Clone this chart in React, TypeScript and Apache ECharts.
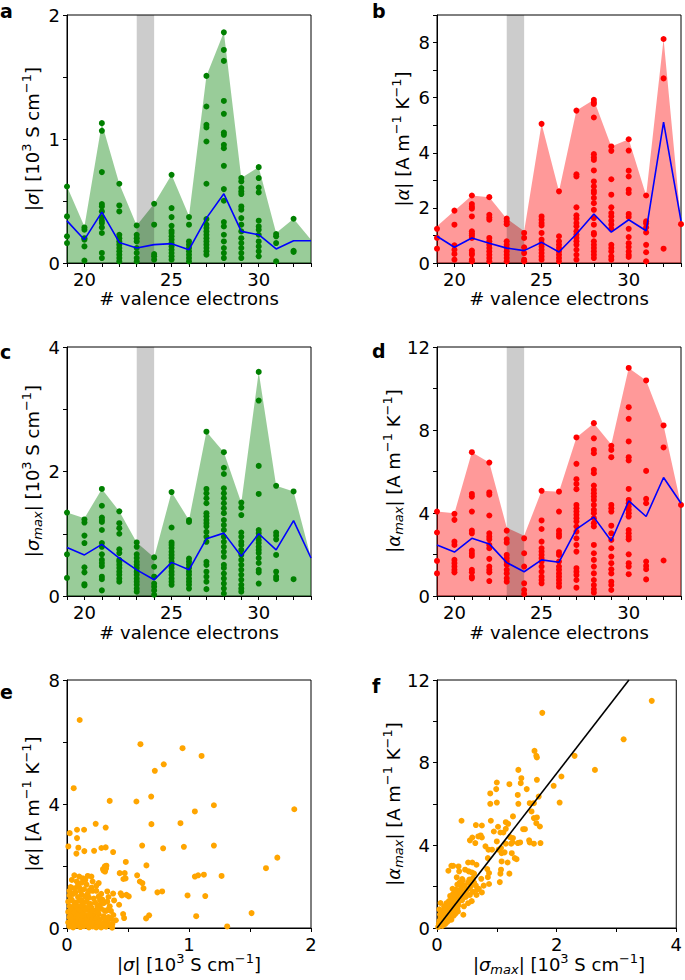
import React, { useEffect, useRef } from "react";
import * as echarts from "echarts";

const FONT = "DejaVu Sans";

// valence electron counts (x positions for panels a-d)
const valence = [19, 20, 21, 22, 23, 24, 25, 26, 27, 28, 29, 30, 31, 32, 33];
const bandRange = [23, 24];

// ---- panel a: |sigma| ----
const aDots = [
  [0.617, 0.376, 0.215, 0.161],
  [0.287, 0.268, 0.2, 0.188, 0.134, 0.019],
  [1.128, 1.066, 0.733, 0.475, 0.456, 0.416, 0.368, 0.341, 0.322, 0.287, 0.242, 0.081, 0.04],
  [0.639, 0.464, 0.416, 0.228, 0.2, 0.174, 0.148, 0.121, 0.094, 0.067, 0.04, 0.013],
  [0.303, 0.228, 0.2, 0.174, 0.121, 0.081, 0.04, 0.013],
  [0.478, 0.309, 0.072, 0.054, 0.027],
  [0.711, 0.443, 0.37, 0.3, 0.26, 0.242, 0.215, 0.188, 0.161, 0.134, 0.107, 0.08, 0.054, 0.027],
  [0.37, 0.309, 0.174, 0.148, 0.121, 0.094, 0.067, 0.04, 0.013],
  [1.509, 1.262, 1.114, 1.093, 0.98, 0.639, 0.354, 0.309, 0.282, 0.255, 0.228, 0.2, 0.174, 0.148, 0.121, 0.094, 0.067],
  [1.86, 1.718, 1.63, 1.307, 1.203, 1.052, 1.034, 0.953, 0.926, 0.784, 0.596, 0.502, 0.33, 0.295, 0.228, 0.174, 0.121, 0.08, 0.04],
  [0.685, 0.658, 0.604, 0.577, 0.556, 0.456, 0.43, 0.362, 0.309, 0.255, 0.2, 0.161, 0.121, 0.08, 0.04],
  [0.773, 0.685, 0.609, 0.569, 0.341, 0.295, 0.268, 0.228, 0.174, 0.134, 0.094, 0.054],
  [0.234, 0.215, 0.161, 0.013],
  [0.357, 0.099, 0.089],
  [],
];
const aMax = [0.617, 0.295, 1.128, 0.639, 0.303, 0.478, 0.711, 0.38, 1.509, 1.86, 0.685, 0.773, 0.242, 0.357, 0.188];
const aMean = [0.34, 0.188, 0.41, 0.166, 0.121, 0.148, 0.156, 0.107, 0.362, 0.558, 0.255, 0.228, 0.113, 0.18, 0.18];

// ---- panel b: |alpha| ----
const bDots = [
  [1.24, 0.91, 0.52],
  [1.9, 1.39, 0.64, 0.48, 0.33, 0.12],
  [2.45, 2.14, 2.04, 1.97, 1.69, 1.15, 1.07, 1.0, 0.91, 0.45, 0.36, 0.3, 0.12, 0.06],
  [2.39, 1.75, 1.65, 1.57, 0.91, 0.79, 0.66, 0.54, 0.42, 0.3, 0.18, 0.06],
  [1.61, 1.51, 1.41, 0.79, 0.66, 0.54, 0.42, 0.3, 0.18, 0.06],
  [1.09, 0.91, 0.57, 0.36, 0.12, 0.06],
  [5.05, 1.69, 1.57, 1.45, 1.36, 1.09, 0.85, 0.72, 0.6, 0.48, 0.36, 0.24, 0.12],
  [2.6, 0.97, 0.79, 0.66, 0.54, 0.42, 0.3, 0.18, 0.06],
  [5.53, 3.22, 3.14, 2.02, 1.73, 1.61, 1.45, 1.33, 1.15, 1.03, 0.91, 0.79, 0.66, 0.48, 0.3, 0.12],
  [5.92, 5.83, 5.77, 5.28, 3.95, 3.83, 3.74, 3.36, 2.96, 2.78, 2.62, 2.54, 2.36, 2.17, 1.93, 1.63, 1.39, 1.09, 1.03, 0.79, 0.66, 0.54, 0.42, 0.3, 0.18],
  [4.23, 4.07, 3.04, 2.48, 2.02, 1.81, 1.69, 1.53, 1.39, 1.24, 0.66, 0.54, 0.42, 0.24, 0.12],
  [4.49, 4.08, 3.35, 3.14, 2.66, 2.54, 1.78, 1.67, 1.24, 0.94, 0.72, 0.58, 0.42, 0.3, 0.22],
  [2.45, 1.51, 1.43, 1.29, 1.11, 0.66, 0.39, 0.06],
  [8.13, 6.7, 0.52],
  [1.41],
];
const bMax = [1.33, 1.9, 2.45, 2.39, 1.61, 1.15, 5.05, 2.6, 5.53, 5.92, 4.23, 4.49, 2.45, 8.13, 1.45];
const bMean = [0.97, 0.57, 0.91, 0.72, 0.54, 0.45, 0.75, 0.4, 1.05, 1.78, 1.12, 1.57, 1.17, 5.11, 1.53];

// ---- panel c: |sigma_max| ----
const cDots = [
  [1.34, 0.67, 0.29],
  [1.23, 1.18, 0.97, 0.85, 0.46, 0.38, 0.19, 0.17],
  [1.72, 1.45, 1.26, 1.22, 1.19, 1.06, 0.85, 0.79, 0.67, 0.58, 0.53, 0.48, 0.31, 0.27, 0.09],
  [1.36, 1.17, 1.09, 1.0, 0.75, 0.69, 0.58, 0.55, 0.5, 0.45, 0.39, 0.34, 0.28, 0.23],
  [0.86, 0.79, 0.67, 0.61, 0.55, 0.5, 0.45, 0.39, 0.34, 0.28, 0.23, 0.18, 0.12, 0.07],
  [0.62, 0.47, 0.31, 0.2, 0.15, 0.09, 0.02],
  [1.67, 1.1, 0.86, 0.82, 0.77, 0.71, 0.66, 0.61, 0.55, 0.5, 0.45, 0.39, 0.34, 0.28, 0.23, 0.18],
  [1.22, 1.19, 0.6, 0.55, 0.5, 0.45, 0.39, 0.34, 0.28, 0.23, 0.18, 0.12],
  [2.64, 1.72, 1.65, 1.57, 1.49, 1.33, 1.28, 1.22, 1.17, 1.12, 1.03, 0.95, 0.87, 0.55, 0.5, 0.39, 0.31, 0.23, 0.11],
  [2.31, 2.06, 1.96, 1.73, 1.65, 1.57, 1.49, 1.41, 1.33, 1.22, 1.14, 1.06, 0.95, 0.87, 0.79, 0.71, 0.63, 0.5, 0.45, 0.36, 0.28, 0.2, 0.12, 0.04],
  [1.5, 1.42, 1.3, 1.02, 0.95, 0.87, 0.82, 0.74, 0.66, 0.58, 0.5, 0.42, 0.34, 0.26, 0.18, 0.12, 0.07],
  [3.6, 3.14, 2.09, 1.64, 1.06, 1.01, 0.95, 0.9, 0.85, 0.79, 0.74, 0.69, 0.61, 0.53, 0.42, 0.38, 0.2],
  [1.77, 1.02, 0.97, 0.91, 0.66, 0.39, 0.31, 0.27],
  [1.68, 0.27],
  [],
];
const cMax = [1.34, 1.25, 1.72, 1.36, 0.86, 0.62, 1.67, 1.22, 2.64, 2.31, 1.5, 3.6, 1.77, 1.68, 0.61];
const cMean = [0.78, 0.66, 0.83, 0.61, 0.42, 0.26, 0.54, 0.42, 0.92, 1.01, 0.64, 1.0, 0.74, 1.21, 0.61];

// ---- panel d: |alpha_max| ----
const dDots = [
  [4.07, 3.06, 1.69, 1.09],
  [3.96, 3.67, 2.62, 2.46, 1.74, 1.58, 1.42, 1.26, 1.14],
  [6.93, 4.92, 4.79, 4.07, 3.15, 3.02, 2.19, 2.06, 1.93, 1.26, 1.14, 0.93, 0.85],
  [6.43, 4.99, 4.88, 3.88, 3.02, 2.86, 2.73, 2.46, 2.3, 1.79, 1.42, 1.26, 1.14, 0.72],
  [3.15, 2.73, 2.57, 1.98, 1.82, 1.66, 1.5, 1.26, 1.09, 0.85, 0.69],
  [2.78, 2.06, 1.42, 0.61, 0.29, 0.1],
  [5.07, 3.64, 3.23, 2.62, 2.3, 2.14, 1.98, 1.82, 1.66, 1.42, 1.17, 0.93, 0.77, 0.61],
  [5.03, 4.07, 3.15, 2.99, 2.86, 2.11, 1.98, 1.66, 1.42, 1.26, 1.09, 0.93, 0.77, 0.61, 0.45],
  [7.64, 6.37, 5.63, 5.4, 5.15, 4.39, 4.23, 4.07, 3.91, 3.75, 3.59, 3.35, 3.1, 2.78, 2.46, 2.14, 1.34, 1.17, 1.01, 0.77, 0.4],
  [8.33, 7.6, 7.04, 6.88, 6.08, 5.92, 5.32, 5.11, 4.95, 4.79, 4.63, 4.39, 4.15, 3.99, 3.75, 3.51, 3.35, 2.46, 2.06, 1.74, 1.42, 1.09, 0.77, 0.53, 0.32, 0.16],
  [7.24, 7.04, 6.69, 4.39, 4.23, 4.07, 3.39, 3.02, 2.7, 2.3, 1.9, 1.58, 1.29, 1.09, 0.69, 0.53, 0.29],
  [10.99, 9.1, 8.54, 7.45, 6.69, 6.53, 5.16, 4.63, 4.47, 4.31, 4.15, 3.99, 3.83, 3.18, 3.02, 2.86, 2.73, 2.01, 1.58, 1.42, 1.05],
  [10.39, 6.03, 4.68, 4.47, 1.66, 1.45, 1.29, 0.8],
  [8.22, 7.16, 1.71],
  [4.39],
];
const dMax = [4.07, 3.99, 6.93, 6.43, 3.3, 2.9, 5.07, 5.03, 7.64, 8.33, 7.3, 10.99, 10.39, 8.22, 4.39];
const dMean = [2.46, 2.12, 2.78, 2.51, 1.61, 1.17, 1.74, 1.63, 3.22, 3.8, 2.65, 4.58, 3.83, 5.71, 4.47];

// ---- panel e: |alpha| vs |sigma| ----
const ePoints = [
  [0.104, 6.71], [0.602, 5.93], [0.947, 5.8], [1.103, 5.55], [0.793, 5.28], [0.72, 5.07], [0.055, 4.51],
  [0.35, 4.1], [0.569, 4.08], [0.69, 4.24], [1.204, 3.96], [1.048, 3.76], [1.863, 3.83], [0.93, 3.38],
  [0.692, 3.35], [0.235, 3.36], [0.317, 3.24], [0.022, 3.06], [0.082, 3.17], [0.14, 3.17], [0.082, 2.9],
  [0.011, 2.63], [0.093, 2.59], [0.077, 2.4], [0.142, 2.48], [0.222, 2.49], [0.282, 2.58], [0.317, 2.6],
  [0.378, 2.45], [0.616, 2.66], [0.788, 2.57], [0.958, 2.62], [1.204, 2.66], [0.482, 2.13], [0.323, 2.01],
  [0.295, 1.9], [0.312, 1.82], [0.651, 2.02], [0.432, 1.77], [0.473, 1.77], [0.462, 1.58], [0.575, 1.7],
  [0.597, 1.5], [0.618, 1.45], [0.627, 1.28], [1.048, 1.66], [1.075, 1.7], [1.122, 1.72], [1.267, 1.68],
  [1.631, 1.93], [1.724, 2.27], [0.741, 1.15], [0.78, 1.18], [0.988, 1.05], [1.133, 1.03], [0.378, 1.11],
  [0.386, 0.89], [0.427, 0.75], [0.487, 1.07], [0.506, 1.02], [0.337, 0.59], [0.309, 0.56], [0.46, 0.45],
  [0.468, 0.32], [0.361, 0.29], [0.372, 0.13], [0.648, 0.31], [0.673, 0.41], [1.059, 0.38], [1.513, 0.48],
  [1.313, 0.05],
  [0.31, 1.99], [0.3, 1.85], [0.32, 1.92], [0.48, 1.6], [0.06, 1.7], [0.1, 1.66], [0.13, 1.6], [0.17, 1.68],
  [0.08, 1.5], [0.12, 1.46], [0.15, 1.55], [0.03, 1.32], [0.06, 1.28], [0.1, 1.3], [0.2, 1.66], [0.21, 1.5],
  [0.2, 1.3], [0.24, 1.36], [0.21, 1.2], [0.26, 1.45], [0.33, 1.18], [0.34, 1.0], [0.44, 1.12], [0.45, 1.05],
  [0.02, 1.05], [0.05, 1.1], [0.09, 1.0], [0.12, 1.08], [0.15, 1.02], [0.18, 0.98], [0.22, 0.95], [0.26, 1.02],
  [0.29, 0.92], [0.01, 0.85], [0.04, 0.9], [0.07, 0.82], [0.1, 0.88], [0.13, 0.8], [0.16, 0.85], [0.19, 0.78],
  [0.23, 0.82], [0.27, 0.75], [0.3, 0.8], [0.35, 0.7], [0.02, 0.7], [0.05, 0.65], [0.08, 0.72], [0.11, 0.62],
  [0.14, 0.68], [0.17, 0.6], [0.2, 0.66], [0.24, 0.58], [0.28, 0.62], [0.32, 0.55], [0.01, 0.52], [0.04, 0.48],
  [0.07, 0.55], [0.1, 0.45], [0.13, 0.5], [0.16, 0.42], [0.19, 0.5], [0.22, 0.4], [0.26, 0.45], [0.3, 0.38],
  [0.38, 0.42], [0.02, 0.35], [0.05, 0.3], [0.08, 0.38], [0.11, 0.28], [0.14, 0.33], [0.17, 0.25], [0.2, 0.32],
  [0.23, 0.22], [0.27, 0.28], [0.33, 0.2], [0.4, 0.25], [0.01, 0.18], [0.04, 0.14], [0.07, 0.2], [0.1, 0.12],
  [0.13, 0.17], [0.16, 0.1], [0.19, 0.15], [0.22, 0.08], [0.25, 0.13], [0.29, 0.06], [0.35, 0.1], [0.02, 0.05],
  [0.05, 0.02], [0.08, 0.07], [0.11, 0.03], [0.14, 0.06], [0.18, 0.02], [0.21, 0.05], [0.24, 0.02], [0.28, 0.02],
  [0.32, 0.04], [0.37, 0.01], [0.03, 0.95], [0.06, 0.42], [0.09, 0.25], [0.12, 0.9], [0.15, 0.36], [0.18, 1.2],
  [0.25, 0.7],
  [0.03, 0.6], [0.06, 0.75], [0.09, 0.58], [0.12, 0.72], [0.15, 0.6], [0.18, 0.7], [0.21, 0.55], [0.25, 0.5],
  [0.03, 0.4], [0.06, 0.5], [0.09, 0.42], [0.12, 0.4], [0.15, 0.25], [0.18, 0.4], [0.21, 0.28], [0.24, 0.3],
  [0.03, 0.25], [0.06, 0.1], [0.09, 0.15], [0.12, 0.22], [0.15, 0.15], [0.18, 0.08], [0.2, 0.18], [0.26, 0.2],
  [0.3, 0.15], [0.31, 0.28], [0.34, 0.35], [0.02, 1.2], [0.07, 1.15], [0.11, 1.2], [0.14, 1.25], [0.17, 1.1],
  [0.24, 1.2], [0.28, 1.1], [0.16, 1.4], [0.09, 1.38], [0.04, 1.55], [0.27, 0.9], [0.33, 0.85], [0.36, 0.55],
];

// ---- panel f: |alpha_max| vs |sigma_max| ----
const fPoints = [
  [3.59, 10.99], [1.76, 10.41], [3.12, 9.13], [1.63, 8.57], [1.66, 8.33], [1.67, 8.25], [2.3, 8.33],
  [2.64, 7.65], [1.36, 7.65], [1.41, 7.25], [1.67, 7.17], [2.08, 7.33], [1.0, 7.04], [1.4, 7.01], [1.21, 6.96],
  [0.99, 6.72], [1.5, 6.72], [1.95, 6.88], [0.89, 6.51], [1.35, 6.44], [1.7, 6.36], [0.89, 6.01], [1.0, 6.07],
  [1.36, 6.01], [1.55, 6.04], [1.62, 6.04], [2.05, 6.07], [1.58, 5.64], [1.27, 5.4], [1.62, 5.32], [1.67, 5.35],
  [0.41, 5.19], [0.65, 4.98], [0.75, 4.96], [1.15, 5.12], [1.19, 5.04], [1.66, 5.07], [1.72, 4.91], [0.9, 5.19],
  [1.02, 4.9], [0.95, 4.67], [1.06, 4.62], [1.11, 4.62], [1.15, 4.8], [1.44, 4.78], [1.47, 4.78], [0.59, 4.38],
  [0.55, 4.24], [0.69, 4.43], [0.73, 4.48], [0.75, 4.38], [0.64, 4.11], [1.22, 4.4], [1.27, 4.35], [1.26, 4.14],
  [1.0, 4.19], [1.15, 4.08], [1.24, 4.08], [1.35, 4.11], [1.39, 4.14], [1.54, 4.24], [1.55, 4.14], [1.62, 4.08],
  [1.73, 4.11], [0.81, 3.95], [0.86, 3.79], [0.92, 3.79], [1.03, 3.79], [1.07, 3.87], [1.08, 3.62], [1.13, 3.66],
  [1.25, 3.62], [0.85, 3.38], [1.3, 3.38], [1.33, 3.33], [1.08, 3.22], [1.18, 3.17], [0.52, 3.17], [0.59, 3.17],
  [0.66, 3.06], [0.24, 3.01], [0.27, 3.01], [0.19, 2.77], [0.36, 2.98], [0.37, 2.74], [0.47, 2.82], [0.53, 2.74],
  [0.58, 2.69], [0.62, 2.63], [0.84, 2.85], [0.87, 2.66], [1.07, 2.82], [1.06, 2.63], [1.21, 2.63], [0.33, 2.45],
  [0.42, 2.37], [0.54, 2.34], [0.74, 2.38], [0.85, 2.46], [1.05, 2.22], [0.87, 2.13], [0.78, 2.05], [0.65, 2.05],
  [0.67, 1.85], [0.75, 1.72],
  [0.02, 0.05], [0.05, 0.15], [0.04, 0.35], [0.08, 0.25], [0.1, 0.45], [0.07, 0.6], [0.12, 0.3], [0.13, 0.65],
  [0.15, 0.5], [0.11, 0.85], [0.17, 0.75], [0.18, 1.0], [0.2, 0.6], [0.22, 0.9], [0.16, 1.2], [0.2, 1.3],
  [0.24, 1.1], [0.26, 0.8], [0.25, 1.45], [0.28, 1.2], [0.3, 1.0], [0.27, 1.65], [0.3, 1.5], [0.33, 1.3],
  [0.32, 1.85], [0.35, 1.7], [0.36, 1.1], [0.38, 1.5], [0.4, 1.9], [0.42, 1.35], [0.4, 2.1], [0.44, 1.7],
  [0.46, 2.05], [0.48, 1.5], [0.5, 1.85], [0.52, 2.2], [0.55, 1.6], [0.56, 2.0], [0.6, 1.75], [0.62, 2.2],
  [0.58, 1.3], [0.66, 1.6], [0.7, 1.9], [0.45, 1.05], [0.52, 1.2], [0.35, 0.8], [0.24, 0.4], [0.09, 0.1],
  [0.14, 0.2], [0.19, 0.35], [0.28, 0.6], [0.06, 0.3], [0.08, 0.78], [0.12, 1.05], [0.22, 1.55], [0.15, 0.95],
  [0.1, 0.6], [0.31, 0.7], [0.43, 2.3], [0.38, 2.2], [0.6, 2.4], [0.34, 2.1], [0.04, 0.9], [0.26, 1.9],
  [0.06, 1.21], [0.44, 0.64],
  [0.03, 0.2], [0.06, 0.5], [0.09, 0.4], [0.11, 0.2], [0.13, 0.45], [0.16, 0.65], [0.18, 0.55], [0.21, 0.8],
  [0.23, 0.7], [0.17, 0.3], [0.26, 1.0], [0.29, 0.9], [0.32, 1.15], [0.34, 0.95], [0.2, 1.1], [0.23, 1.3],
  [0.29, 1.35], [0.37, 1.3], [0.39, 1.7], [0.41, 1.55], [0.47, 1.8], [0.5, 1.6], [0.53, 1.9], [0.31, 1.6],
  [0.14, 0.8], [0.05, 0.65],
];
const fitSlope = 3.74;

// tick settings per panel
const yMaxes = [2, 9, 4, 12, 8, 12];
const yIntervals = [0.5, 1, 1, 2, 2, 2];
const yLabelEvery = [1, 2, 2, 4, 4, 4];

const GREEN = "#008000";
const GREEN_FILL = "rgba(0,128,0,0.4)";
const RED = "#ff0000";
const RED_FILL = "rgba(255,0,0,0.4)";
const BLUE = "#0000ff";
const ORANGE = "#ffa500";

const grids = [
  { left: 67, top: 15, width: 244, height: 248 },
  { left: 437, top: 15, width: 244, height: 248 },
  { left: 67, top: 347, width: 244, height: 249 },
  { left: 437, top: 347, width: 244, height: 249 },
  { left: 67, top: 680, width: 244, height: 248 },
  { left: 437, top: 680, width: 244, height: 248 },
];

const flatten = (cols: number[][]) =>
  cols.flatMap((col, k) => col.map((v) => [valence[k], v]));
const pairs = (vals: number[]) => vals.map((v, k) => [valence[k], v]);

const isMult = (v: number, m: number) => Math.abs(v / m - Math.round(v / m)) < 1e-6;

const richStyles = {
  i: { fontFamily: FONT, fontSize: 18, fontStyle: "italic", lineHeight: 24, fill: "#000" },
  sup: { fontFamily: FONT, fontSize: 13, verticalAlign: "top", lineHeight: 13, fill: "#000" },
  sub: { fontFamily: FONT, fontSize: 13, fontStyle: "italic", verticalAlign: "bottom", lineHeight: 16, fill: "#000" },
};

const SIGMA = "|{i|σ}| [10{sup|3} S cm{sup|−1}]";
const ALPHA = "|{i|α}| [A m{sup|−1} K{sup|−1}]";
const SIGMA_MAX = "|{i|σ}{sub|max}| [10{sup|3} S cm{sup|−1}]";
const ALPHA_MAX = "|{i|α}{sub|max}| [A m{sup|−1} K{sup|−1}]";
const VALENCE = "# valence electrons";

function nameText(text: string, x: number, y: number, rotate: boolean) {
  return {
    type: "text",
    x,
    y,
    rotation: rotate ? Math.PI / 2 : 0,
    z: 100,
    style: {
      text,
      rich: richStyles,
      fontFamily: FONT,
      fontSize: 18,
      lineHeight: 24,
      fill: "#000",
      align: "center",
      verticalAlign: "middle",
    },
  };
}

function letter(t: string, x: number, y: number) {
  return {
    type: "text",
    x,
    y,
    z: 100,
    style: {
      text: t,
      fontFamily: FONT,
      fontSize: 19,
      fontWeight: "bold",
      fill: "#000",
      align: "left",
      verticalAlign: "middle",
    },
  };
}

export default function App() {
  const ref = useRef<HTMLDivElement>(null);
  useEffect(() => {
    if (!ref.current) return;
    const chart = echarts.init(ref.current, undefined, { renderer: "svg" });

    const axisCommon = {
      axisLine: { show: true, lineStyle: { color: "#000", width: 1 } },
      axisTick: { show: true, length: 4, lineStyle: { color: "#000", width: 1 } },
      splitLine: { show: false },
    };
    const labelStyle = { fontFamily: FONT, fontSize: 18, color: "#000", margin: 7 };

    const xAxis = grids.map((_, i) => {
      if (i < 4) {
        return {
          type: "value",
          gridIndex: i,
          min: 19,
          max: 33,
          interval: 1,
          ...axisCommon,
          axisLabel: { ...labelStyle, formatter: (v: number) => (isMult(v, 5) ? String(v) : "") },
        };
      }
      if (i === 4) {
        return {
          type: "value",
          gridIndex: i,
          min: 0,
          max: 2,
          interval: 0.5,
          ...axisCommon,
          axisLabel: { ...labelStyle, formatter: (v: number) => (isMult(v, 1) ? String(v) : "") },
        };
      }
      return {
        type: "value",
        gridIndex: i,
        min: 0,
        max: 4,
        interval: 1,
        ...axisCommon,
        axisLabel: { ...labelStyle, formatter: (v: number) => (isMult(v, 2) ? String(v) : "") },
      };
    });

    const yAxis = grids.map((_, i) => ({
      type: "value",
      gridIndex: i,
      min: 0,
      max: yMaxes[i],
      interval: yIntervals[i],
      ...axisCommon,
      axisLabel: {
        ...labelStyle,
        formatter: (v: number) => (isMult(v, yLabelEvery[i]) ? String(v) : ""),
      },
    }));

    const panelSeries = (i: number, dots: number[][], maxV: number[], meanV: number[], dot: string, fill: string) => [
      {
        type: "line",
        xAxisIndex: i,
        yAxisIndex: i,
        data: pairs(maxV),
        symbol: "none",
        lineStyle: { width: 0, color: fill },
        itemStyle: { color: fill },
        areaStyle: { color: fill, opacity: 1 },
        z: 1,
        silent: true,
      },
      {
        type: "line",
        xAxisIndex: i,
        yAxisIndex: i,
        data: bandRange.map((x) => [x, yMaxes[i]]),
        symbol: "none",
        lineStyle: { width: 0 },
        areaStyle: { color: "rgba(0,0,0,0.2)", opacity: 1 },
        z: 2,
        silent: true,
      },
      {
        type: "scatter",
        xAxisIndex: i,
        yAxisIndex: i,
        data: flatten(dots),
        symbolSize: 6,
        itemStyle: { color: dot, opacity: 1 },
        z: 3,
        silent: true,
      },
      {
        type: "line",
        xAxisIndex: i,
        yAxisIndex: i,
        data: pairs(meanV),
        symbol: "none",
        lineStyle: { width: 1.6, color: BLUE },
        itemStyle: { color: BLUE },
        z: 4,
        silent: true,
      },
    ];

    const series: any[] = [
      ...panelSeries(0, aDots, aMax, aMean, GREEN, GREEN_FILL),
      ...panelSeries(1, bDots, bMax, bMean, RED, RED_FILL),
      ...panelSeries(2, cDots, cMax, cMean, GREEN, GREEN_FILL),
      ...panelSeries(3, dDots, dMax, dMean, RED, RED_FILL),
      {
        type: "scatter",
        xAxisIndex: 4,
        yAxisIndex: 4,
        data: ePoints,
        symbolSize: 6,
        itemStyle: { color: ORANGE, opacity: 1 },
        silent: true,
      },
      {
        type: "scatter",
        xAxisIndex: 5,
        yAxisIndex: 5,
        data: fPoints,
        symbolSize: 6,
        itemStyle: { color: ORANGE, opacity: 1 },
        silent: true,
        z: 3,
      },
      {
        type: "line",
        xAxisIndex: 5,
        yAxisIndex: 5,
        data: [
          [0, 0],
          [yMaxes[5] / fitSlope, yMaxes[5]],
        ],
        symbol: "none",
        lineStyle: { width: 1.6, color: "#000" },
        z: 4,
        silent: true,
      },
    ];

    const graphic = [
      letter("a", 0, 11),
      letter("b", 372, 11),
      letter("c", 0, 352),
      letter("d", 372, 351),
      letter("e", 0, 692),
      letter("f", 372, 686),
      nameText(SIGMA, 32, 139, true),
      nameText(ALPHA, 402, 139, true),
      nameText(SIGMA_MAX, 32, 471, true),
      nameText(ALPHA_MAX, 393, 471, true),
      nameText(ALPHA, 32, 804, true),
      nameText(ALPHA_MAX, 393, 804, true),
      nameText(VALENCE, 189, 298, false),
      nameText(VALENCE, 559, 298, false),
      nameText(VALENCE, 189, 632, false),
      nameText(VALENCE, 559, 632, false),
      nameText(SIGMA, 189, 964, false),
      nameText(SIGMA_MAX, 559, 964, false),
    ];

    chart.setOption({
      animation: false,
      backgroundColor: "#fff",
      grid: grids.map((g) => ({ ...g, show: true, borderColor: "#000", borderWidth: 1, backgroundColor: "transparent" })),
      xAxis,
      yAxis,
      series,
      graphic,
    });
    return () => chart.dispose();
  }, []);
  return (
    <div
      ref={ref}
      style={{ position: "absolute", left: 0, top: 0, width: 685, height: 980 }}
    />
  );
}
